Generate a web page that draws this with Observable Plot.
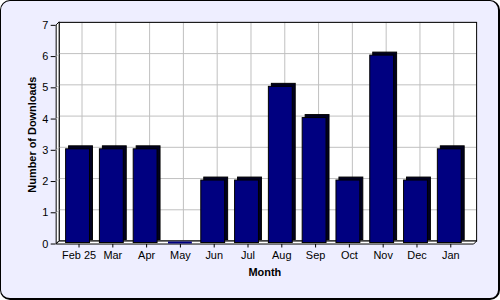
<!DOCTYPE html>
<html><head><meta charset="utf-8">
<script src="https://cdn.jsdelivr.net/npm/d3@7"></script>
<script src="https://cdn.jsdelivr.net/npm/@observablehq/plot@0.6"></script>
<style>
html,body{margin:0;padding:0;background:#fff;}
#chart{position:relative;width:500px;height:300px;box-sizing:border-box;background:#eeeeff;border:1px solid #000;border-right-width:2px;border-bottom-width:2px;border-radius:10px;overflow:hidden;}
#chart svg{position:absolute;left:-1px;top:-1px;}
</style></head><body><div id="chart"></div>
<script>
const months = ["Feb 25","Mar","Apr","May","Jun","Jul","Aug","Sep","Oct","Nov","Dec","Jan"];
const downloads = [3,3,3,0,2,2,5,4,2,6,2,3];
const yTicks = [0,1,2,3,4,5,6,7];
const xTitle = "Month";
const yTitle = "Number of Downloads";
const DEPTH = 3;
const data = months.map((m, i) => ({month: m, downloads: downloads[i]}));

// 3D walls: left wall and floor, drawn with the plot's scales and dimensions
function walls(index, scales, values, dimensions) {
  const {width, marginLeft, marginRight} = dimensions;
  const x0 = marginLeft, x1 = width - marginRight;
  const yb = scales.y(0), yt = scales.y(7);
  const g = d3.create("svg:g").attr("fill", "white").attr("stroke", "black").attr("stroke-width", 1);
  const d = DEPTH;
  g.append("path").attr("d", `M${x0+0.5},${yb}V${yt}L${x0+0.5+d},${yt-d}V${yb-d}Z`);
  for (const t of yTicks.slice(1, -1)) {
    g.append("line").attr("x1", x0 + 0.5).attr("x2", x0 + 0.5 + d)
      .attr("y1", scales.y(t) + 0.5).attr("y2", scales.y(t) + 0.5 - d)
      .attr("stroke", "#c0c0c0");
  }
  g.append("path").attr("d", `M${x0+0.5},${yb+0.5}H${x1+0.5}L${x1+0.5+d},${yb+0.5-d}H${x0+0.5+d}Z`);
  return g.node();
}

const plot = Plot.plot({
  width: 500,
  height: 300,
  marginLeft: 56,
  marginRight: 24,
  marginTop: 25,
  marginBottom: 55,
  style: {background: "transparent", fontFamily: "'Liberation Sans', Arial, sans-serif", fontSize: "11px", color: "black"},
  x: {domain: months, padding: 0.286, label: null, tickSize: 4, tickPadding: 3},
  y: {domain: [0, 7], ticks: yTicks, tickFormat: d3.format("d"), label: null, tickSize: 5, tickPadding: 3},
  marks: [
    Plot.frame({fill: "white", stroke: null, dx: DEPTH, dy: -DEPTH}),
    Plot.ruleY(yTicks, {y: d => d, stroke: "#c0c0c0", strokeOpacity: 1, dx: DEPTH, dy: -DEPTH}),
    Plot.ruleX(months, {x: d => d, stroke: "#c0c0c0", strokeOpacity: 1, dx: DEPTH, dy: -DEPTH}),
    Plot.frame({stroke: "black", fill: null, dx: DEPTH, dy: -DEPTH}),
    walls,
    Plot.barY(data, {x: "month", y: "downloads", fill: "#000020", stroke: "black", dx: -1 + DEPTH, dy: -1 - DEPTH}),
    Plot.barY(data, {x: "month", y: "downloads", fill: "#000080", stroke: "black", dx: -1, dy: -1}),
    Plot.tickY(data.filter(d => d.downloads === 0), {x: "month", y: "downloads", stroke: "#000080", strokeWidth: 2, dx: 0, dy: -1.5}),
    Plot.text([xTitle], {frameAnchor: "bottom", textAnchor: "middle", lineAnchor: "middle", dy: 29, fontWeight: "bold", fontSize: 11, fill: "black"}),
    Plot.text([yTitle], {frameAnchor: "left", textAnchor: "middle", lineAnchor: "middle", dx: -24, rotate: -90, fontWeight: "bold", fontSize: 11, fill: "black"})
  ]
});
document.getElementById("chart").appendChild(plot);
</script>
</body></html>
